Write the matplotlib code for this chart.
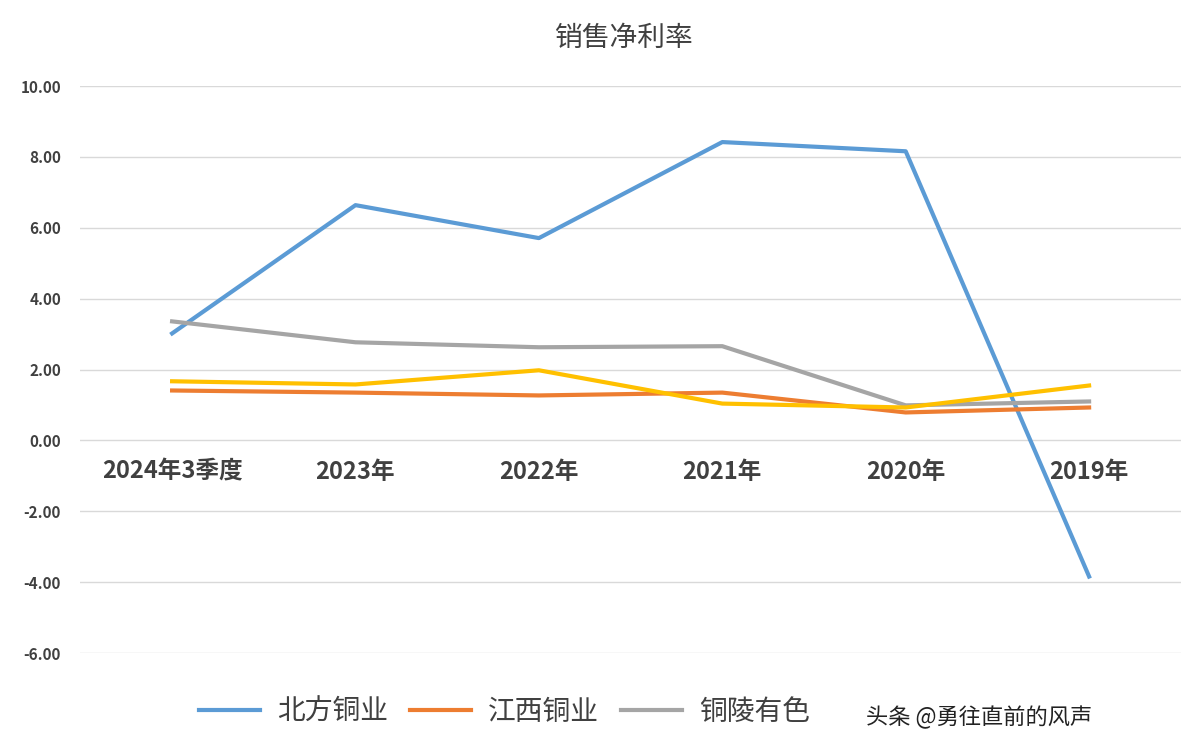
import matplotlib.pyplot as plt
from matplotlib.patches import Rectangle

plt.rcParams['font.family'] = ['Noto Sans CJK SC', 'Noto Sans CJK JP', 'Noto Sans CJK TC',
                               'Noto Sans CJK KR', 'DejaVu Sans']

categories = ['2024年3季度', '2023年', '2022年', '2021年', '2020年', '2019年']
beifang = [3.02, 6.64, 5.71, 8.42, 8.16, -3.84]
jiangxi = [1.41, 1.35, 1.27, 1.35, 0.79, 0.93]
tongling = [3.36, 2.77, 2.63, 2.66, 0.99, 1.10]
yellow = [1.67, 1.58, 1.98, 1.04, 0.93, 1.55]
series_names = ['北方铜业', '江西铜业', '铜陵有色']
yticks = [-6, -4, -2, 0, 2, 4, 6, 8, 10]

fig = plt.figure(figsize=(12, 7.55), dpi=100)
ax = fig.add_axes([0.067, 0.135, 0.917, 0.751])
x = range(len(categories))
ax.plot(x, beifang, color='#5b9bd5', lw=3, label=series_names[0])
ax.plot(x, jiangxi, color='#ed7d31', lw=3, label=series_names[1])
ax.plot(x, tongling, color='#a5a5a5', lw=3, label=series_names[2])
ax.plot(x, yellow, color='#ffc000', lw=3, label='_nolegend_')

ax.set_xlim(-0.5, 5.5)
ax.set_ylim(-6, 10)
ax.set_yticks(yticks)
ax.set_yticklabels([f'{v:.2f}' for v in yticks], fontweight='bold', fontsize=11, color='#404040')
ax.grid(axis='y', color='#d9d9d9', lw=1)
ax.set_axisbelow(True)
for s in ax.spines.values():
    s.set_visible(False)
ax.spines['bottom'].set_position(('data', 0))
ax.set_xticks(list(x))
ax.set_xticklabels(categories, fontsize=17, fontweight='bold', color='#404040')
ax.tick_params(axis='x', length=0, pad=14)
ax.tick_params(axis='y', length=0, pad=14)

fig.text(0.52, 0.95, '销售净利率', ha='center', va='center', fontsize=20, color='#404040')

fig.legend(loc='center left', bbox_to_anchor=(0.145, 0.057), ncol=3, frameon=False,
           fontsize=20, handlelength=2.2, columnspacing=0.8, handletextpad=0.6,
           labelcolor='#404040')
fig.patches.append(Rectangle((0.65, 0.0), 0.35, 0.1, transform=fig.transFigure,
                             facecolor='white', edgecolor='none', zorder=5))
fig.text(0.722, 0.05, '头条 @勇往直前的风声', fontsize=16, color='#222222',
         va='center', zorder=6)

fig.savefig('out.png')
